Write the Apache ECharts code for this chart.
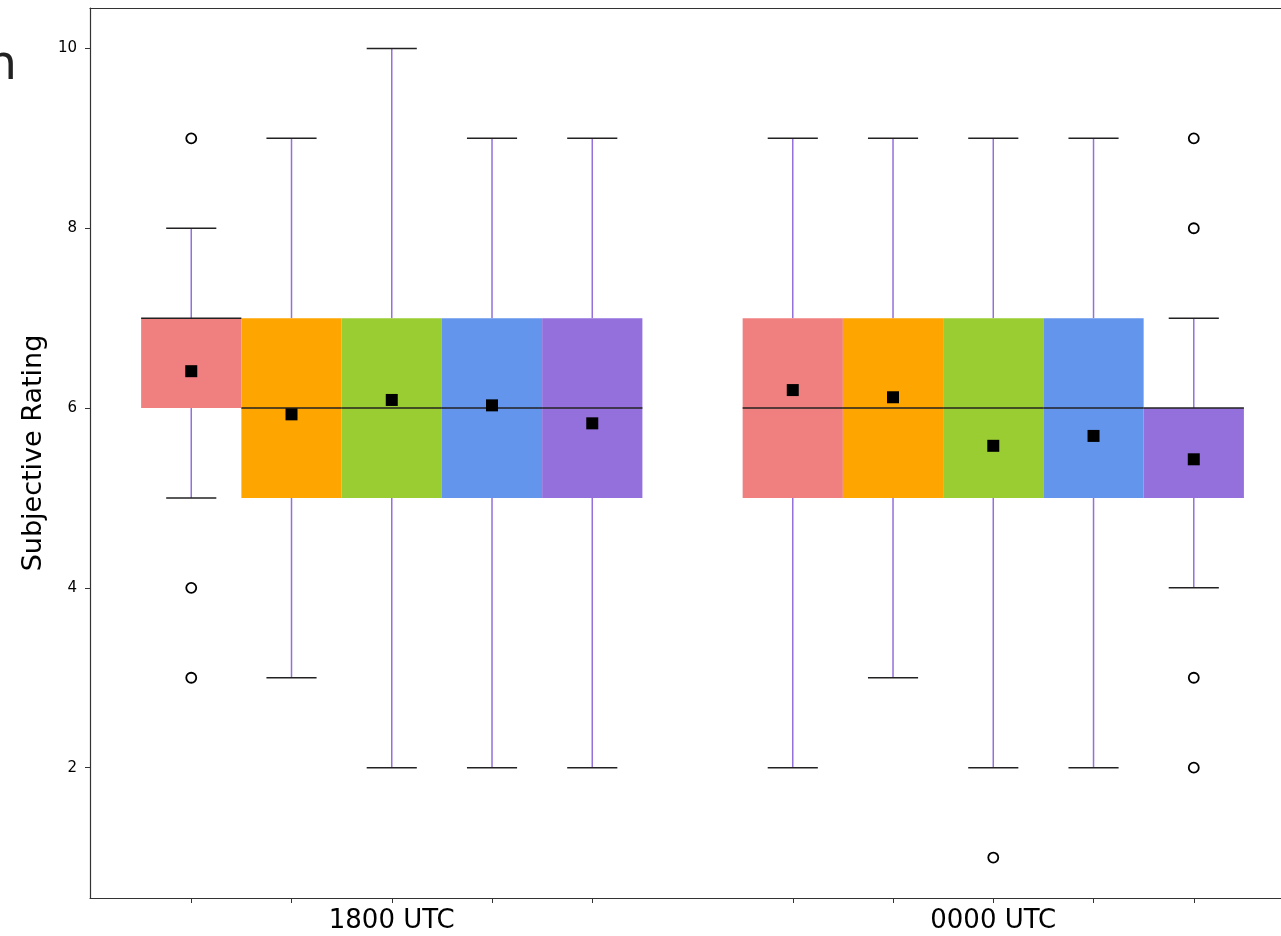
<!DOCTYPE html>
<html><head><meta charset="utf-8">
<script src="https://cdn.jsdelivr.net/npm/echarts@6/dist/echarts.min.js"></script>
<style>html,body{margin:0;padding:0;background:#fff;overflow:hidden}#c{width:1281px;height:936px}</style>
</head><body><div id="c"></div>
<script>
const groupLabels = ['1800 UTC', '0000 UTC'];
const groupLabelPositions = [2, 8];
const tickPositions = [0, 1, 2, 3, 4, 6, 7, 8, 9, 10];
const yTicks = [2, 4, 6, 8, 10];
const boxPositions = [0, 1, 2, 3, 4, 6, 7, 8, 9, 10];
const boxColors = ['#F08080', '#FFA500', '#9ACD32', '#6495ED', '#9370DB', '#F08080', '#FFA500', '#9ACD32', '#6495ED', '#9370DB'];
const whiskerLow = [5, 3, 2, 2, 2, 2, 3, 2, 2, 4];
const q1 = [6, 5, 5, 5, 5, 5, 5, 5, 5, 5];
const median = [7, 6, 6, 6, 6, 6, 6, 6, 6, 6];
const q3 = [7, 7, 7, 7, 7, 7, 7, 7, 7, 6];
const whiskerHigh = [8, 9, 10, 9, 9, 9, 9, 9, 9, 7];
const means = [6.41, 5.93, 6.09, 6.03, 5.83, 6.20, 6.12, 5.58, 5.69, 5.43];
const outliers = [[0, 9], [0, 4], [0, 3], [8, 1], [10, 9], [10, 8], [10, 3], [10, 2]];

const FONT = 'DejaVu Sans';
const X_MIN = -1.01, X_MAX = 10.87;
const boxData = boxPositions.map((p, i) => [p, whiskerLow[i], q1[i], median[i], q3[i], whiskerHigh[i], i]);
const meanData = boxPositions.map((p, i) => [p, means[i]]);

const chart = echarts.init(document.getElementById('c'), null, {renderer: 'canvas'});
chart.setOption({
  animation: false,
  backgroundColor: '#fff',
  grid: {left: 90, top: 8, bottom: 38, right: 0, show: false},
  graphic: [{
    type: 'text', x: 17, y: 43,
    style: {text: 'n', font: '48px "DejaVu Sans"', fill: '#222', textAlign: 'right', textVerticalAlign: 'top'}
  }],
  xAxis: [{
    type: 'value', min: X_MIN, max: X_MAX,
    axisLine: {show: true, onZero: false, lineStyle: {color: '#333', width: 1.2}},
    splitLine: {show: false},
    axisTick: {show: true, length: 5, customValues: tickPositions, lineStyle: {color: '#333', width: 1}},
    axisLabel: {
      customValues: groupLabelPositions,
      formatter: v => groupLabels[groupLabelPositions.indexOf(Math.round(v))] || '',
      fontFamily: FONT, fontSize: 26, color: '#000', margin: 10
    }
  }, {
    type: 'value', position: 'top', min: X_MIN, max: X_MAX,
    axisLine: {show: true, onZero: false, lineStyle: {color: '#333', width: 1.2}},
    splitLine: {show: false}, axisTick: {show: false}, axisLabel: {show: false}
  }],
  yAxis: {
    type: 'value', min: 0.55, max: 10.45,
    name: 'Subjective Rating', nameLocation: 'middle', nameRotate: 90, nameGap: 37,
    nameTextStyle: {fontFamily: FONT, fontSize: 27, color: '#000'},
    axisLine: {show: true, onZero: false, lineStyle: {color: '#333', width: 1.2}},
    splitLine: {show: false},
    axisTick: {show: true, length: 5, customValues: yTicks, lineStyle: {color: '#333', width: 1}},
    axisLabel: {customValues: yTicks, fontFamily: FONT, fontSize: 15, color: '#000', margin: 13}
  },
  series: [
    {
      type: 'custom',
      data: boxData,
      encode: {x: 0, y: [1, 2, 3, 4, 5]},
      z: 2,
      renderItem: function (params, api) {
        const x = api.value(0);
        const lo = api.value(1), a = api.value(2), m = api.value(3), b = api.value(4), hi = api.value(5);
        const col = boxColors[api.value(6)];
        const tl = api.coord([x - 0.5, b]);
        const br = api.coord([x + 0.5, a]);
        const cLo = api.coord([x, lo]), cA = api.coord([x, a]), cB = api.coord([x, b]), cHi = api.coord([x, hi]);
        const capLoL = api.coord([x - 0.25, lo]), capLoR = api.coord([x + 0.25, lo]);
        const capHiL = api.coord([x - 0.25, hi]), capHiR = api.coord([x + 0.25, hi]);
        const mL = api.coord([x - 0.5, m]), mR = api.coord([x + 0.5, m]);
        const wStyle = {stroke: '#9370DB', lineWidth: 1.5};
        const kStyle = {stroke: '#222', lineWidth: 1.5};
        const children = [];
        if (lo < a) children.push({type: 'line', shape: {x1: cLo[0], y1: cLo[1], x2: cA[0], y2: cA[1]}, style: wStyle});
        if (hi > b) children.push({type: 'line', shape: {x1: cB[0], y1: cB[1], x2: cHi[0], y2: cHi[1]}, style: wStyle});
        children.push({type: 'line', shape: {x1: capLoL[0], y1: capLoL[1], x2: capLoR[0], y2: capLoR[1]}, style: kStyle});
        children.push({type: 'line', shape: {x1: capHiL[0], y1: capHiL[1], x2: capHiR[0], y2: capHiR[1]}, style: kStyle});
        children.push({type: 'rect', shape: {x: tl[0], y: tl[1], width: br[0] - tl[0], height: br[1] - tl[1]}, style: {fill: col}});
        children.push({type: 'line', shape: {x1: mL[0], y1: mL[1], x2: mR[0], y2: mR[1]}, style: kStyle, z2: 10});
        return {type: 'group', children: children};
      }
    },
    {
      type: 'scatter', data: meanData, symbol: 'rect', symbolSize: 12, z: 5,
      itemStyle: {color: '#000', opacity: 1}
    },
    {
      type: 'scatter', data: outliers, symbol: 'circle', symbolSize: 10, z: 5,
      itemStyle: {color: '#fff', borderColor: '#000', borderWidth: 1.8, opacity: 1}
    }
  ]
});
</script>
</body></html>
